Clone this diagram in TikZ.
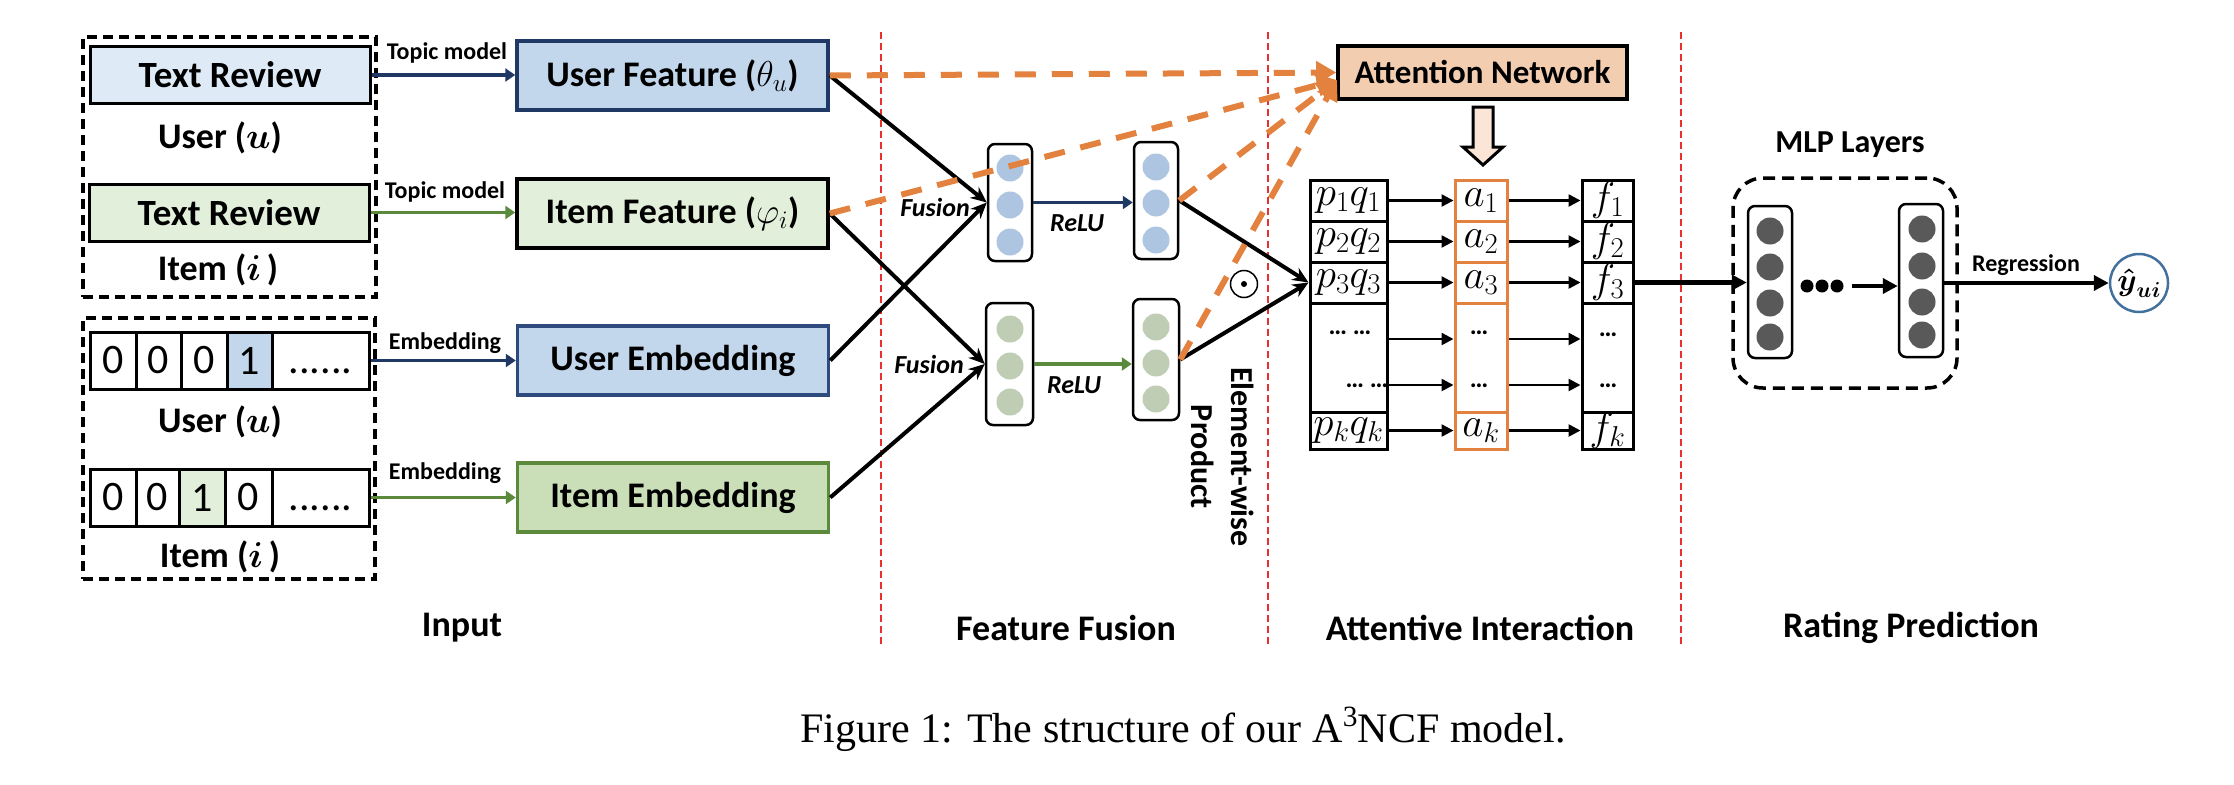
\RequirePackage{fix-cm}
\documentclass[tikz,border=0pt]{standalone}
\usepackage{amsmath}
\usepackage{fontspec}
\setmainfont{Carlito}
\newfontfamily\capfont{Liberation Serif}
\usetikzlibrary{arrows.meta,calc}
\definecolor{navy}{HTML}{203864}
\definecolor{navyb}{HTML}{2F4A7D}
\definecolor{lblue}{HTML}{DEEBF7}
\definecolor{mblue}{HTML}{C2D6EC}
\definecolor{lgreen}{HTML}{E2EFDA}
\definecolor{mgreen}{HTML}{CADFB8}
\definecolor{dgreen}{HTML}{5B8A3C}
\definecolor{bcirc}{HTML}{ADC5E0}
\definecolor{gcirc}{HTML}{BECDB3}
\definecolor{orng}{HTML}{E2823E}
\definecolor{peach}{HTML}{F2CDB0}
\definecolor{lpeach}{HTML}{FBE5D6}
\definecolor{redl}{HTML}{E8302F}
\definecolor{dgray}{HTML}{595959}
\definecolor{ycirc}{HTML}{41719C}
\newcommand\fsz[1]{\fontsize{#1}{#1}\selectfont}
\newcommand\yhattext{$\boldsymbol{\hat{y}}_{\boldsymbol{ui}}$}
\newcommand\twodots{\textbf{\textellipsis\ \textellipsis}}
\newcommand\onedots{\textbf{\textellipsis}}
\tikzset{
  dbox/.style={draw, line width=3.5pt, dash pattern=on 10pt off 6pt, inner sep=0pt},
  tbox/.style={draw, line width=3pt, inner sep=0pt, minimum width=280pt, minimum height=56pt, font=\fsz{37}\bfseries},
  lbl/.style={inner sep=0pt, font=\fsz{36}\bfseries},
  small/.style={inner sep=0pt, font=\fsz{24}\bfseries},
  cell/.style={draw, line width=3pt, inner sep=0pt, minimum height=57pt, font=\fsz{42}},
  fbox/.style={draw, line width=3.5pt, inner sep=0pt, minimum width=311pt, minimum height=69pt, font=\fsz{36}\bfseries},
  navyarr/.style={draw=navy, line width=3.5pt, -{Triangle[length=10pt,width=13pt]}},
  greenarr/.style={draw=dgreen, line width=3.5pt, -{Triangle[length=10pt,width=13pt]}},
  fusarr/.style={draw=black, line width=4pt, -{Stealth[length=16pt,width=14pt]}},
  orarr/.style={draw=orng, line width=6pt, dash pattern=on 21pt off 16pt, -{Triangle[length=20pt,width=22pt]}},
  colbox/.style={draw, line width=2.5pt, rounded corners=7pt, inner sep=0pt},
  circ/.style={circle, inner sep=0pt, minimum size=27pt},
  itl/.style={inner sep=0pt, font=\fsz{26}\bfseries\itshape},
  mcell/.style={draw, line width=3pt, inner sep=0pt, font=\fsz{41}},
  acell/.style={draw=orng, line width=3pt, inner sep=0pt, font=\fsz{41}},
  matarr/.style={draw=black, line width=2.5pt, -{Triangle[length=12pt,width=12pt]}},
  bigarr/.style={draw=black, line width=5pt, -{Triangle[length=15pt,width=15pt]}},
  redd/.style={draw=redl, line width=2pt, dash pattern=on 7pt off 4pt},
  sect/.style={inner sep=0pt, font=\fsz{36}\bfseries},
  dts/.style={inner sep=0pt, font=\fsz{26}},
  ynode/.style={circle, draw=ycirc, line width=2.5pt, minimum size=58pt, inner sep=0pt, font=\fsz{31}},
}
\begin{document}
\begin{tikzpicture}[x=1pt,y=-1pt]
\useasboundingbox (0,0) rectangle (2234,784);

% ---------- Input ----------
\node[dbox, minimum width=293pt, minimum height=260pt] (in1) at (229.5,167) {};
\node[dbox, minimum width=292pt, minimum height=261pt] (in2) at (229,448.5) {};

\node[tbox, fill=lblue] (tr1) at (230,75) {Text Review};
\node[lbl] (u1) at (220,138) {User ({\boldmath$u$})};
\node[tbox, fill=lgreen, minimum height=57pt] (tr2) at (229,212.5) {Text Review};
\node[lbl] (i1) at (218,270) {Item ({\boldmath$i$}\,)};

\node[cell, minimum width=46pt] (v1a) at (113,360.5) {0};
\node[cell, minimum width=45pt] (v1b) at (158.5,360.5) {0};
\node[cell, minimum width=46pt] (v1c) at (204,360.5) {0};
\node[cell, minimum width=45pt, fill=mblue] (v1d) at (249.5,360.5) {1};
\node[cell, minimum width=97pt] (v1e) at (320.5,360.5) {\vphantom{0}......};
\node[lbl] (u2) at (220,422) {User ({\boldmath$u$})};

\node[cell, minimum width=46pt] (v2a) at (113,497.5) {0};
\node[cell, minimum width=43pt] (v2b) at (157.5,497.5) {0};
\node[cell, minimum width=46pt, fill=lgreen] (v2c) at (202,497.5) {1};
\node[cell, minimum width=47pt] (v2d) at (248.5,497.5) {0};
\node[cell, minimum width=97pt] (v2e) at (320.5,497.5) {\vphantom{0}......};
\node[lbl] (i2) at (220,557) {Item ({\boldmath$i$}\,)};

% ---------- Feature boxes ----------
\node[fbox, fill=mblue, draw=navy] (uf) at (672.5,75.5) {User Feature ($\theta_u$)};
\node[fbox, fill=lgreen, draw=black] (if) at (672.5,213.5) {Item Feature ($\varphi_i$)};
\node[fbox, fill=mblue, draw=navyb] (ue) at (673,360.5) {User Embedding};
\node[fbox, fill=mgreen, draw=dgreen] (ie) at (673,497.5) {Item Embedding};

\draw[navyarr] (tr1.east) -- (tr1.east -| uf.west);
\draw[greenarr] (tr2.east) -- (tr2.east -| if.west);
\draw[navyarr] (v1e.east) -- (v1e.east -| ue.west);
\draw[greenarr] (v2e.east) -- (v2e.east -| ie.west);
\node[small] (tm1) at (447,53) {Topic model};
\node[small] (tm2) at (445,192) {Topic model};
\node[small] (em1) at (445,343) {Embedding};
\node[small] (em2) at (445,473) {Embedding};

% ---------- Section dividers ----------
\draw[redd] (881,32) -- (881,647);
\draw[redd] (1268,32) -- (1268,647);
\draw[redd] (1681,32) -- (1681,647);

% ---------- Feature fusion ----------
\node[colbox, minimum width=44pt, minimum height=117pt] (bc1) at (1010,202.5) {};
\node[circ, fill=bcirc] (bc1a) at (1010,168) {};
\node[circ, fill=bcirc] (bc1b) at (1010,205) {};
\node[circ, fill=bcirc] (bc1c) at (1010,242) {};
\node[colbox, minimum width=47pt, minimum height=122pt] (gc1) at (1009.5,364) {};
\node[circ, fill=gcirc] (gc1a) at (1010,329) {};
\node[circ, fill=gcirc] (gc1b) at (1010,366) {};
\node[circ, fill=gcirc] (gc1c) at (1010,402) {};
\node[colbox, minimum width=44pt, minimum height=117pt] (bc2) at (1156,200.5) {};
\node[circ, fill=bcirc] (bc2a) at (1156,167) {};
\node[circ, fill=bcirc] (bc2b) at (1156,203) {};
\node[circ, fill=bcirc] (bc2c) at (1156,240) {};
\node[colbox, minimum width=46pt, minimum height=121pt] (gc2) at (1156,359.5) {};
\node[circ, fill=gcirc] (gc2a) at (1156,327) {};
\node[circ, fill=gcirc] (gc2b) at (1156,363) {};
\node[circ, fill=gcirc] (gc2c) at (1156,399) {};

\draw[fusarr] (uf.east) -- (bc1.west);
\draw[fusarr] (ue.east) -- (bc1.west);
\draw[fusarr] (if.east) -- (gc1.west);
\draw[fusarr] (ie.east) -- (gc1.west);
\node[itl] (fu1) at (935,207) {Fusion};
\node[itl] (fu2) at (929,364) {Fusion};

\draw[navyarr] (bc1.east) -- (bc1.east -| bc2.west);
\draw[greenarr] (gc1.east) -- (gc1.east -| gc2.west);
\node[itl] (re1) at (1077,223) {ReLU};
\node[itl] (re2) at (1074,385) {ReLU};

% ---------- Attention network ----------
\node[draw, line width=3.5pt, fill=peach, inner sep=0pt, minimum width=289pt, minimum height=53pt, font=\fsz{33}\bfseries] (att) at (1482.5,72.5) {Attention Network};
\coordinate (attin) at (1337,80);
\draw[line width=3pt, fill=lpeach] (1473,107) -- (1493,107) -- (1493,147) -- (1503,147) -- (1483,165) -- (1463,147) -- (1473,147) -- cycle;

% ---------- Interaction matrix ----------
\node[mcell, minimum width=77pt, minimum height=41pt] (p1) at (1348.5,200.5) {$p_1q_1$};
\node[mcell, minimum width=77pt, minimum height=41pt] (p2) at (1348.5,241.5) {$p_2q_2$};
\node[mcell, minimum width=77pt, minimum height=41pt] (p3) at (1348.5,282.5) {$p_3q_3$};
\node[mcell, minimum width=77pt, minimum height=109pt] (pd) at (1348.5,357.5) {};
\node[mcell, minimum width=77pt, minimum height=37pt] (pk) at (1348.5,430.5) {$p_kq_k$};

\node[acell, minimum width=52pt, minimum height=41pt] (a1) at (1481,200.5) {$a_1$};
\node[acell, minimum width=52pt, minimum height=41pt] (a2) at (1481,241.5) {$a_2$};
\node[acell, minimum width=52pt, minimum height=41pt] (a3) at (1481,282.5) {$a_3$};
\node[acell, minimum width=52pt, minimum height=109pt] (ad) at (1481,357.5) {};
\node[acell, minimum width=52pt, minimum height=37pt] (ak) at (1481,430.5) {$a_k$};

\node[mcell, minimum width=51pt, minimum height=41pt] (f1) at (1607.5,200.5) {$f_1$};
\node[mcell, minimum width=51pt, minimum height=41pt] (f2) at (1607.5,241.5) {$f_2$};
\node[mcell, minimum width=51pt, minimum height=41pt] (f3) at (1607.5,282.5) {$f_3$};
\node[mcell, minimum width=51pt, minimum height=109pt] (fd) at (1607.5,357.5) {};
\node[mcell, minimum width=51pt, minimum height=37pt] (fk) at (1607.5,430.5) {$f_k$};

\node[dts] (pdd1) at (1350,333) {\twodots};
\node[dts] (pdd2) at (1367,386) {\twodots};
\node[dts] (add1) at (1479,333) {\onedots};
\node[dts] (add2) at (1479,386) {\onedots};
\node[dts] (fdd1) at (1608,335) {\onedots};
\node[dts] (fdd2) at (1608,386) {\onedots};

\foreach \r in {1,2,3,k}{
  \draw[matarr] (p\r.east) -- (a\r.west);
  \draw[matarr] (a\r.east) -- (f\r.east -| f\r.west);
}
\coordinate (row4) at (1300,339);
\coordinate (row5) at (1300,385);
\draw[matarr] (pd.east |- row4) -- (ad.west |- row4);
\draw[matarr] (pd.east |- row5) -- (ad.west |- row5);
\draw[matarr] (ad.east |- row4) -- (fd.west |- row4);
\draw[matarr] (ad.east |- row5) -- (fd.west |- row5);

\draw[fusarr] (bc2.east) -- (p3.west);
\draw[fusarr] (gc2.east) -- (p3.west);

% orange attention inputs
\draw[orarr] (uf.east) -- (att.west);
\draw[orarr] (if.east) -- (attin);
\draw[orarr] (bc2.east) -- (attin);
\draw[orarr] (gc2.east) -- (attin);

% element-wise product
\node[circle, draw, line width=1.5pt, minimum size=27pt, inner sep=0pt] (odot) at (1244,284) {};
\fill (odot.center) circle (3pt);
\node[rotate=-90, inner sep=0pt, align=center, font=\fontsize{32}{40}\selectfont\bfseries] (ewp) at (1223,457) {Element-wise\\Product};

% ---------- Rating prediction ----------
\node[draw, line width=3.5pt, dash pattern=on 12pt off 7pt, rounded corners=30pt, inner sep=0pt, minimum width=224pt, minimum height=210pt] (mlp) at (1845,283) {};
\node[colbox, minimum width=44pt, minimum height=152pt] (m1) at (1770,282) {};
\node[circ, fill=dgray] (m1a) at (1770,231) {};
\node[circ, fill=dgray] (m1b) at (1770,267) {};
\node[circ, fill=dgray] (m1c) at (1770,303) {};
\node[circ, fill=dgray] (m1d) at (1770,337) {};
\node[colbox, minimum width=44pt, minimum height=153pt] (m2) at (1921,280.5) {};
\node[circ, fill=dgray] (m2a) at (1922,229) {};
\node[circ, fill=dgray] (m2b) at (1922,266) {};
\node[circ, fill=dgray] (m2c) at (1922,302) {};
\node[circ, fill=dgray] (m2d) at (1922,335) {};
\node[circle, fill=black, inner sep=0pt, minimum size=13pt] (md1) at (1807,286) {};
\node[circle, fill=black, inner sep=0pt, minimum size=13pt] (md2) at (1822,286) {};
\node[circle, fill=black, inner sep=0pt, minimum size=13pt] (md3) at (1837,286) {};
\node[inner sep=0pt, font=\fsz{32}\bfseries] (mlpl) at (1850,145) {MLP Layers};

\draw[bigarr] (f3.east) -- (f3.east -| m1.west);
\draw[bigarr, line width=4pt, shorten <=8pt] (md3.east) -- (md3.east -| m2.west);
\node[ynode] (yhat) at (2139,283) {\yhattext};
\draw[bigarr, line width=4pt] (m2.east |- yhat.west) -- (yhat.west);
\node[small] (reg) at (2026,265) {Regression};

% ---------- Section labels ----------
\node[sect] (s1) at (462,628) {Input};
\node[sect] (s2) at (1066,628) {Feature Fusion};
\node[sect] (s3) at (1480,628) {Attentive Interaction};
\node[sect] (s4) at (1911,628) {Rating Prediction};

\node[anchor=base, inner sep=0pt, font=\capfont\fsz{42}] (cap) at (1183,742) {Figure 1: The structure of our A\textsuperscript{3}NCF model.};
\end{tikzpicture}
\end{document}
